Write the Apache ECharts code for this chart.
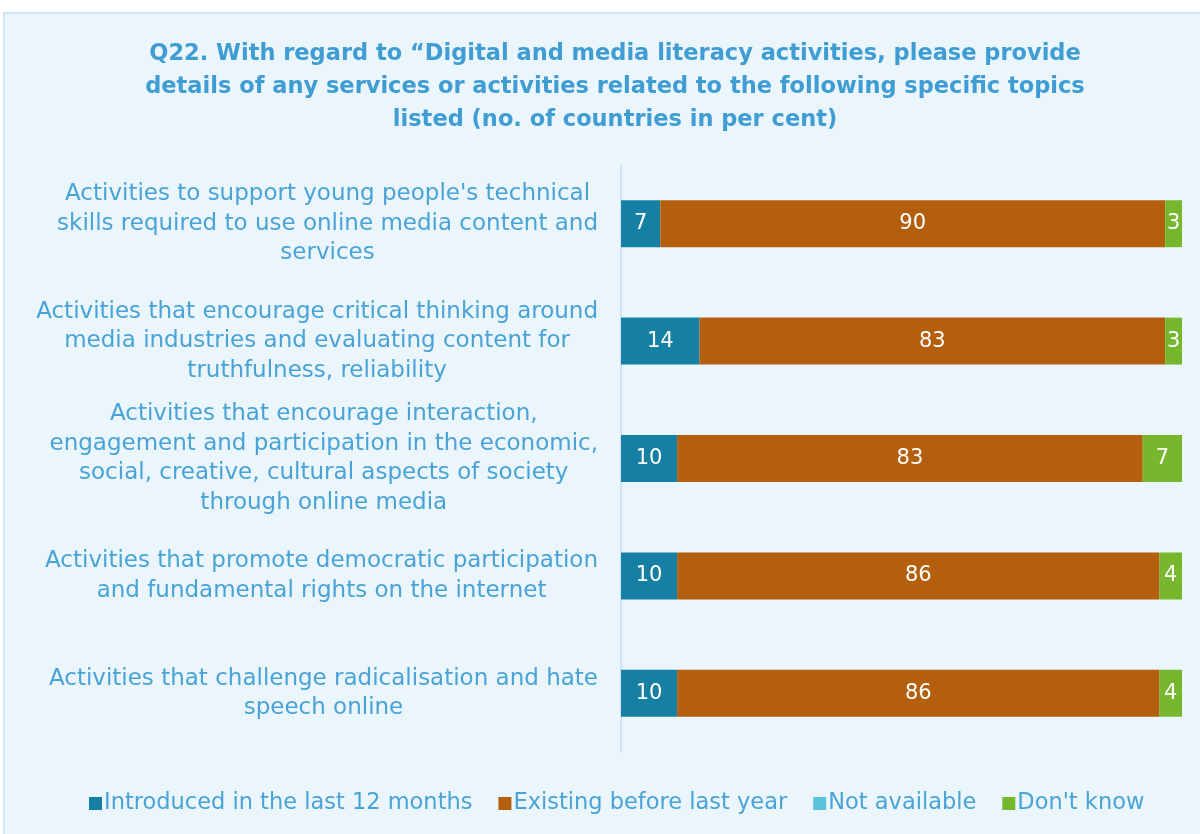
<!DOCTYPE html>
<html>
<head>
<meta charset="utf-8">
<script src="https://cdn.jsdelivr.net/npm/echarts@6/dist/echarts.min.js"></script>
<style>
  html, body { margin: 0; padding: 0; background: #ffffff; }
  #chart { width: 1200px; height: 834px; }
</style>
</head>
<body>
<div id="chart"></div>
<script>
// Survey topics (each entry's lines are wrapped as shown on the axis)
const categories = [
  ["Activities to support young people's technical", "skills required to use online media content and", "services"],
  ["Activities that encourage critical thinking around", "media industries and evaluating content for", "truthfulness, reliability"],
  ["Activities that encourage interaction,", "engagement and participation in the economic,", "social, creative, cultural aspects of society", "through online media"],
  ["Activities that promote democratic participation", "and fundamental rights on the internet"],
  ["Activities that challenge radicalisation and hate", "speech online"]
];

// Share of countries, per cent
const introduced = [7, 14, 10, 10, 10];
const existing = [90, 83, 83, 86, 86];
const notAvailable = [0, 0, 0, 0, 0];
const dontKnow = [3, 3, 7, 4, 4];

const seriesNames = ["Introduced in the last 12 months", "Existing before last year", "Not available", "Don't know"];
const seriesColors = ["#1580a3", "#b35f0e", "#5bc2dc", "#77b72d"];

const titleLines = [
  "Q22. With regard to \u201cDigital and media literacy activities, please provide",
  "details of any services or activities related to the following specific topics",
  "listed (no. of countries in per cent)"
];

const FONT = "'DejaVu Sans', 'Noto Sans', sans-serif";
const TEXT_BLUE = "#4aa3d6";

const chart = echarts.init(document.getElementById('chart'), null, { renderer: 'canvas' });

const seriesData = [introduced, existing, notAvailable, dontKnow];

const option = {
  backgroundColor: 'transparent',
  animation: false,
  graphic: [{
    type: 'rect',
    z: -10,
    silent: true,
    shape: { x: 4, y: 13, width: 1210, height: 830 },
    style: { fill: '#eaf5fc', stroke: '#d2e7f3', lineWidth: 2 }
  }],
  title: {
    text: titleLines.join('\n'),
    left: 610,
    textAlign: 'center',
    top: 33,
    textStyle: {
      fontFamily: FONT,
      fontWeight: 'bold',
      fontSize: 22.5,
      lineHeight: 33,
      color: '#3f9dd4'
    }
  },
  legend: {
    bottom: 14,
    left: 84,
    itemWidth: 13,
    itemHeight: 13,
    itemGap: 26,
    icon: 'rect',
    textStyle: { fontFamily: FONT, fontSize: 22.5, color: TEXT_BLUE, padding: [0, 0, 0, -3] },
    data: seriesNames
  },
  grid: {
    left: 621,
    right: 18,
    top: 165,
    bottom: 82,
    containLabel: false
  },
  xAxis: {
    type: 'value',
    min: 0,
    max: 100,
    show: false
  },
  yAxis: {
    type: 'category',
    inverse: true,
    data: categories.map(function (c) { return c.join('\n'); }),
    axisLine: { show: true, lineStyle: { color: '#cfe3f0', width: 2 } },
    axisTick: { show: false },
    splitLine: { show: false },
    axisLabel: {
      margin: 23,
      align: 'right',
      formatter: function (value) {
        return value.split('\n').map(function (l) { return '{c|' + l + '}'; }).join('\n');
      },
      rich: {
        c: {
          align: 'center',
          fontFamily: FONT,
          fontSize: 23,
          lineHeight: 29.5,
          color: TEXT_BLUE
        }
      }
    }
  },
  series: seriesNames.map(function (name, i) {
    return {
      name: name,
      type: 'bar',
      stack: 'total',
      barWidth: '40%',
      itemStyle: { color: seriesColors[i] },
      label: {
        show: true,
        position: 'inside',
        color: '#ffffff',
        fontFamily: FONT,
        fontSize: 21,
        formatter: function (p) { return p.value > 0 ? String(p.value) : ''; }
      },
      data: seriesData[i]
    };
  })
};

chart.setOption(option);
</script>
</body>
</html>
